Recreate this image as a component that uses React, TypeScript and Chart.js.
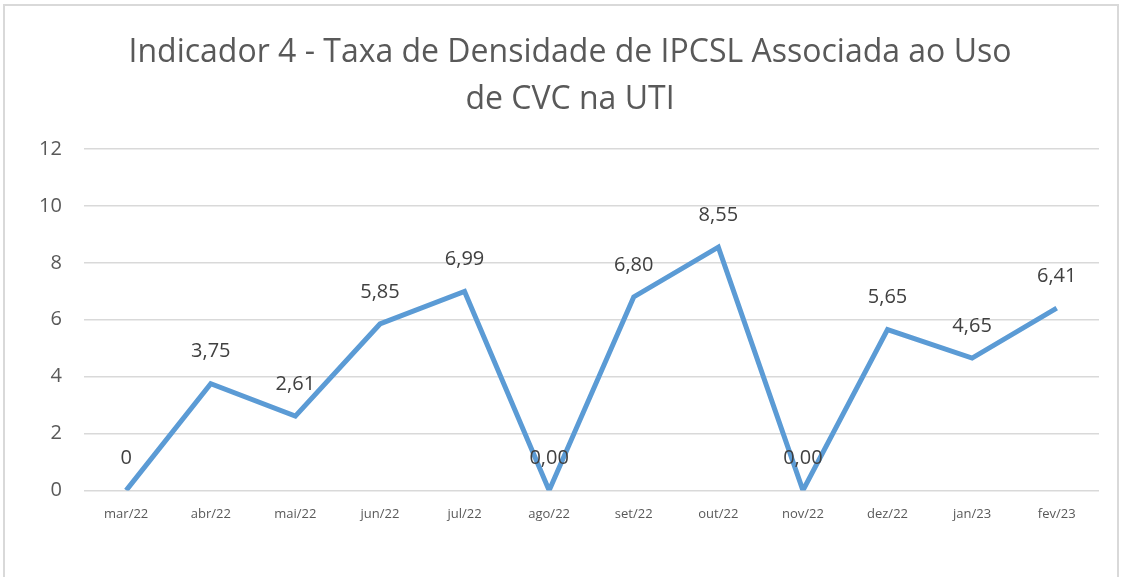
import React, { useEffect, useRef } from "react";
import { Chart, registerables } from "chart.js";

Chart.register(...registerables);

const categories = ["mar/22", "abr/22", "mai/22", "jun/22", "jul/22", "ago/22", "set/22", "out/22", "nov/22", "dez/22", "jan/23", "fev/23"];
const values = [0, 3.75, 2.61, 5.85, 6.99, 0, 6.8, 8.55, 0, 5.65, 4.65, 6.41];
const valueLabels = ["0", "3,75", "2,61", "5,85", "6,99", "0,00", "6,80", "8,55", "0,00", "5,65", "4,65", "6,41"];
const titleLines = ["Indicador 4 - Taxa de Densidade de IPCSL Associada ao Uso", "de CVC na UTI"];

const labelPlugin = {
  id: "valueLabels",
  afterDatasetsDraw(chart: any) {
    const ctx = chart.ctx;
    const meta = chart.getDatasetMeta(0);
    ctx.save();
    ctx.font = '20px "Open Sans", sans-serif';
    ctx.fillStyle = "#404040";
    ctx.textAlign = "center";
    ctx.textBaseline = "middle";
    meta.data.forEach((pt: any, i: number) => {
      ctx.fillText(valueLabels[i], pt.x, pt.y - 32);
    });
    ctx.restore();
  },
};

const titlePlugin = {
  id: "centeredTitle",
  afterDraw(chart: any) {
    const ctx = chart.ctx;
    ctx.save();
    ctx.font = '32px "Open Sans", sans-serif';
    ctx.fillStyle = "#595959";
    ctx.textAlign = "center";
    ctx.textBaseline = "middle";
    titleLines.forEach((line, i) => {
      ctx.fillText(line, 570, 53 + i * 47);
    });
    ctx.restore();
  },
};

export default function App() {
  const ref = useRef<HTMLCanvasElement>(null);
  useEffect(() => {
    if (!ref.current) return;
    const chart = new Chart(ref.current, {
      type: "line",
      data: {
        labels: categories,
        datasets: [
          {
            data: values,
            borderColor: "#5B9BD5",
            backgroundColor: "#5B9BD5",
            borderWidth: 5,
            pointRadius: 0,
            tension: 0,
            borderJoinStyle: "miter",
          },
        ],
      },
      options: {
        animation: false,
        responsive: false,
        layout: { padding: { top: 149, left: 17, right: 30, bottom: 47 } },
        plugins: {
          legend: { display: false },
          tooltip: { enabled: false },
          title: { display: false },
        },
        scales: {
          x: {
            offset: true,
            grid: { display: false },
            border: { display: false },
            ticks: { color: "#595959", font: { family: '"Open Sans", sans-serif', size: 13 }, maxRotation: 0, padding: 8 },
          },
          y: {
            min: 0,
            max: 12,
            ticks: { stepSize: 2, color: "#595959", font: { family: '"Open Sans", sans-serif', size: 20 }, padding: 22 },
            grid: { color: "#d9d9d9", lineWidth: 1.5, drawTicks: false },
            border: { display: false },
          },
        },
      },
      plugins: [labelPlugin, titlePlugin],
    });
    return () => chart.destroy();
  }, []);
  return (
    <div style={{ position: "absolute", left: 0, top: 0, width: 1129, height: 577, background: "#fff" }}>
      <div style={{ position: "absolute", left: 3, top: 4, width: 1116, height: 580, border: "2px solid #d9d9d9", boxSizing: "border-box" }} />
      <canvas ref={ref} width={1129} height={577} style={{ position: "absolute", left: 0, top: 0 }} />
    </div>
  );
}
